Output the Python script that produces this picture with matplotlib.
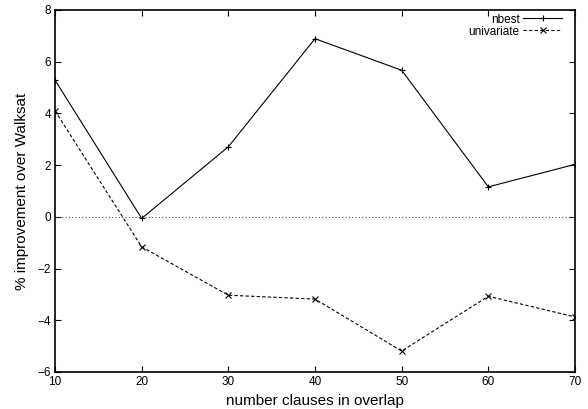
import matplotlib.pyplot as plt

plt.rcParams['font.family'] = ['Liberation Sans', 'DejaVu Sans']

# --- Data ---
overlap = [10, 20, 30, 40, 50, 60, 70]
nbest = [5.29, -0.06, 2.71, 6.89, 5.67, 1.16, 2.03]
univariate = [4.10, -1.16, -3.03, -3.18, -5.19, -3.07, -3.87]
x_ticks = [10, 20, 30, 40, 50, 60, 70]
y_ticks = [-6, -4, -2, 0, 2, 4, 6, 8]

# --- Plot ---
fig = plt.figure(figsize=(5.88, 4.09), dpi=100)
ax = fig.add_axes([55 / 588, 37 / 409, 520 / 588, 362 / 409])

ax.axhline(0, color="#555555", linestyle=(0, (1, 2)), linewidth=0.8)
ax.plot(overlap, nbest, color="black", linewidth=0.8, marker="+",
        markersize=5, markeredgewidth=0.8, label="nbest")
ax.plot(overlap, univariate, color="black", linewidth=0.8, linestyle=(0, (3, 2)),
        marker="x", markersize=4, markeredgewidth=0.8, label="univariate")

ax.set_xlim(10, 70)
ax.set_ylim(-6, 8)
ax.set_xticks(x_ticks)
ax.set_yticks(y_ticks)
ax.tick_params(direction="in", top=True, right=True, length=4, width=0.8,
               labelsize=8.5, pad=3)
for s in ax.spines.values():
    s.set_linewidth(1.2)

ax.set_xlabel("number clauses in overlap", fontsize=11, labelpad=4)
ax.set_ylabel("% improvement over Walksat", fontsize=11, labelpad=6)

leg = ax.legend(loc="upper right", bbox_to_anchor=(0.975, 0.99), frameon=False,
                markerfirst=False, fontsize=8.5, handlelength=3.3,
                handletextpad=0.3, labelspacing=0.0, borderpad=0,
                borderaxespad=0)
for t in leg.get_texts():
    t.set_ha("right")

plt.savefig("out.png", dpi=100)
